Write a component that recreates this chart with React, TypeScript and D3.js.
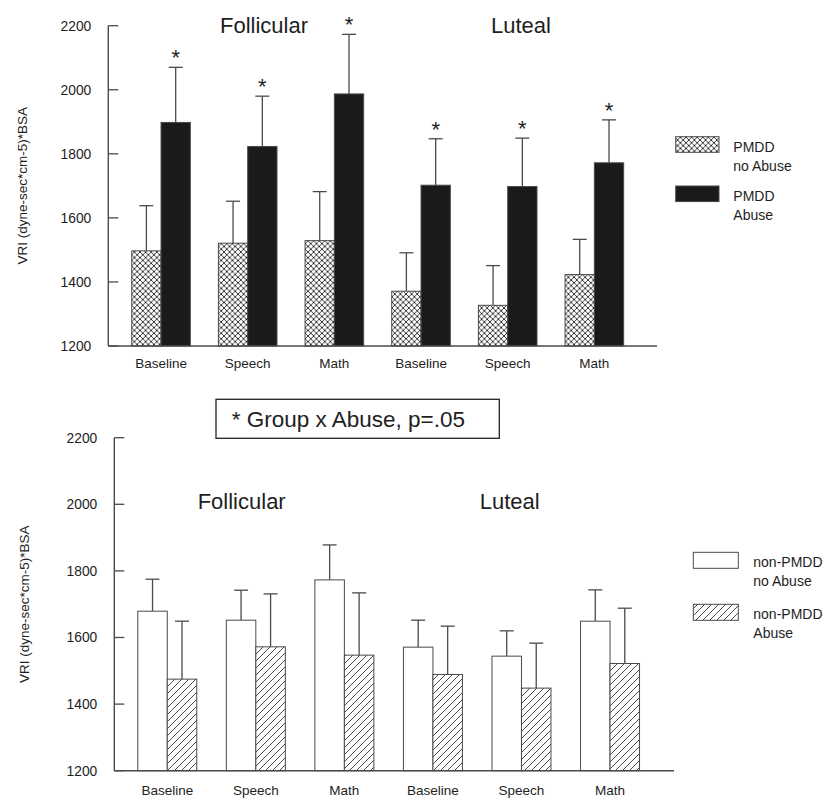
import React from "react";
import * as d3 from "d3";

// ---------- data ----------
const categories = ["Baseline", "Speech", "Math", "Baseline", "Speech", "Math"];
const phases = ["Follicular", "Luteal"];
const yTicks = [1200, 1400, 1600, 1800, 2000, 2200];
const yLabel = "VRI (dyne-sec*cm-5)*BSA";

const pmddNoAbuse = [1497, 1521, 1529, 1371, 1327, 1423];
const pmddNoAbuseErr = [141, 131, 153, 120, 124, 110];
const pmddAbuse = [1898, 1823, 1987, 1702, 1698, 1772];
const pmddAbuseErr = [172, 157, 186, 145, 151, 134];
const pmddSignificant = [true, true, true, true, true, true];

const nonNoAbuse = [1679, 1652, 1773, 1571, 1544, 1649];
const nonNoAbuseErr = [96, 90, 105, 81, 76, 94];
const nonAbuse = [1475, 1572, 1547, 1489, 1448, 1522];
const nonAbuseErr = [174, 159, 187, 145, 135, 166];

const topLegend = [["PMDD", "no Abuse"], ["PMDD", "Abuse"]];
const bottomLegend = [["non-PMDD", "no Abuse"], ["non-PMDD", "Abuse"]];
const noteText = "* Group x Abuse, p=.05";

// ---------- styles ----------
const FONT = "'Liberation Sans', Arial, Helvetica, sans-serif";
const TEXT = "#1e1e1e";
const LINE = "#4a4a4a";
const BLACK = "#1a1a1a";

type PanelProps = {
  yTopPx: number;
  yBotPx: number;
  axisX: number;
  axisEnd: number;
  bandRange: [number, number];
  barW: number;
  titleX: number[];
  titleY: number;
  labelY: number;
  yLabelX: number;
  series: { values: number[]; errs: number[]; fill: string }[];
  stars?: boolean[];
  legend: { x: number; ys: number[]; w: number; h: number; textX: number; labels: string[][]; fills: string[] };
};

function Panel(p: PanelProps) {
  const y = d3.scaleLinear().domain([1200, 2200]).range([p.yBotPx, p.yTopPx]);
  const x = d3.scaleBand<number>().domain(categories.map((_, i) => i)).range(p.bandRange).padding(0);
  const xi = d3.scaleBand<number>().domain([0, 1]).range([-p.barW, p.barW]).padding(0);
  const cap = 7;
  return (
    <g>
      {categories.map((_, i) => {
        const cx = (x(i) as number) + x.bandwidth() / 2;
        return (
          <g key={i}>
            {p.series.map((s, k) => {
              const bx = cx + (xi(k) as number);
              const mx = bx + p.barW / 2;
              const top = y(s.values[i]);
              const et = y(s.values[i] + s.errs[i]);
              return (
                <g key={k}>
                  <line x1={mx} x2={mx} y1={top} y2={et} stroke={LINE} strokeWidth={1.3} />
                  <line x1={mx - cap} x2={mx + cap} y1={et} y2={et} stroke={LINE} strokeWidth={1.3} />
                  <rect x={bx} y={top} width={p.barW} height={y(1200) - top} fill={s.fill} stroke={LINE} strokeWidth={1} />
                  {p.stars && k === 1 && p.stars[i] ? (
                    <text x={mx} y={et - 2} textAnchor="middle" fontSize={22} fontFamily={FONT} fill={TEXT}>*</text>
                  ) : null}
                </g>
              );
            })}
          </g>
        );
      })}
      <line x1={p.axisX} x2={p.axisX} y1={y(2200)} y2={y(1200)} stroke={LINE} strokeWidth={1.4} />
      <line x1={p.axisX} x2={p.axisEnd} y1={y(1200)} y2={y(1200)} stroke={LINE} strokeWidth={1.4} />
      {yTicks.map((t) => (
        <g key={t}>
          <line x1={p.axisX} x2={p.axisX + 10} y1={y(t)} y2={y(t)} stroke={LINE} strokeWidth={1.3} />
          <text x={p.axisX - 17} y={y(t)} dy="0.36em" textAnchor="end" fontSize={13.8} fontFamily={FONT} fill={TEXT}>{t}</text>
        </g>
      ))}
      {categories.map((c, i) => (
        <text key={i} x={(x(i) as number) + x.bandwidth() / 2} y={p.labelY} textAnchor="middle" fontSize={13.5} fontFamily={FONT} fill={TEXT}>{c}</text>
      ))}
      <text transform={`translate(${p.yLabelX},${(y(2200) + y(1200)) / 2}) rotate(-90)`} textAnchor="middle" dy="0.35em" fontSize={13.5} fontFamily={FONT} fill={TEXT}>{yLabel}</text>
      {phases.map((ph, i) => (
        <text key={ph} x={p.titleX[i]} y={p.titleY} textAnchor="middle" fontSize={22} fontFamily={FONT} fill={TEXT}>{ph}</text>
      ))}
      {p.legend.labels.map((lab, k) => (
        <g key={k}>
          <rect x={p.legend.x} y={p.legend.ys[k]} width={p.legend.w} height={p.legend.h} fill={p.legend.fills[k]} stroke={LINE} strokeWidth={1} />
          <text x={p.legend.textX} y={p.legend.ys[k] + 15} fontSize={14} fontFamily={FONT} fill={TEXT}>{lab[0]}</text>
          <text x={p.legend.textX} y={p.legend.ys[k] + 34} fontSize={14} fontFamily={FONT} fill={TEXT}>{lab[1]}</text>
        </g>
      ))}
    </g>
  );
}

export default function App() {
  return (
    <svg width={837} height={807} style={{ position: "absolute", left: 0, top: 0, background: "#fff" }}>
      <defs>
        <pattern id="cross" patternUnits="userSpaceOnUse" width={5.6} height={5.6}>
          <rect width={5.6} height={5.6} fill="#fff" />
          <path d="M0,0 L5.6,5.6 M5.6,0 L0,5.6" stroke="#222" strokeWidth={0.9} />
        </pattern>
        <pattern id="hatch" patternUnits="userSpaceOnUse" width={7} height={7}>
          <rect width={7} height={7} fill="#fff" />
          <path d="M0,7 L7,0 M-1,1 L1,-1 M6,8 L8,6" stroke="#333" strokeWidth={0.9} />
        </pattern>
      </defs>
      <rect width={837} height={807} fill="#fff" />
      <Panel
        yTopPx={25.7}
        yBotPx={346}
        axisX={108.3}
        axisEnd={657}
        bandRange={[117.7, 637.7]}
        barW={29.3}
        titleX={[264, 521]}
        titleY={33}
        labelY={368}
        yLabelX={22}
        series={[
          { values: pmddNoAbuse, errs: pmddNoAbuseErr, fill: "url(#cross)" },
          { values: pmddAbuse, errs: pmddAbuseErr, fill: BLACK },
        ]}
        stars={pmddSignificant}
        legend={{ x: 675.7, ys: [136.7, 186], w: 43.3, h: 15.6, textX: 733.3, labels: topLegend, fills: ["url(#cross)", BLACK] }}
      />
      <Panel
        yTopPx={437.7}
        yBotPx={770.7}
        axisX={114.3}
        axisEnd={674}
        bandRange={[123, 654.3]}
        barW={29.5}
        titleX={[241.7, 509.7]}
        titleY={509.3}
        labelY={795}
        yLabelX={24}
        series={[
          { values: nonNoAbuse, errs: nonNoAbuseErr, fill: "#fff" },
          { values: nonAbuse, errs: nonAbuseErr, fill: "url(#hatch)" },
        ]}
        legend={{ x: 693.3, ys: [552.3, 604.3], w: 45, h: 16, textX: 753.3, labels: bottomLegend, fills: ["#fff", "url(#hatch)"] }}
      />
      <rect x={216} y={399.3} width={283.3} height={39} fill="#fff" stroke="#222" strokeWidth={1.3} />
      <text x={231.7} y={426.7} fontSize={22.5} fontFamily={FONT} fill={TEXT}>{noteText}</text>
    </svg>
  );
}
